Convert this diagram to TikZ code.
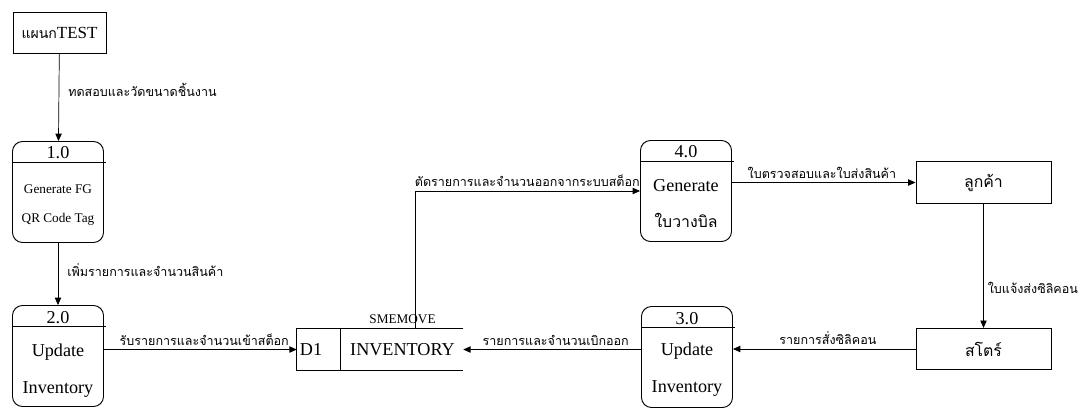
\documentclass[tikz,border=0pt]{standalone}
\usepackage{fontspec}
\setmainfont{Liberation Serif}
\newfontfamily\thai[Script=Thai]{Loma}
\usetikzlibrary{arrows.meta}

\tikzset{
  ext/.style={draw, line width=0.8pt, inner sep=0, minimum width=4.05cm, minimum height=1.24cm, font=\thai\fontsize{13.5}{16}\selectfont},
  proc/.style={draw, rounded corners=0.3cm, line width=0.8pt, minimum width=2.73cm, minimum height=3.03cm},
  big/.style={inner sep=0, font=\fontsize{15.5}{18}\selectfont},
  small/.style={inner sep=0, font=\fontsize{11.3}{13}\selectfont},
  lbl/.style={inner sep=0, font=\thai\fontsize{10.7}{12}\selectfont},
  flow/.style={->, line width=0.6pt}
}

\begin{document}
\begin{tikzpicture}[x=0.03cm, y=-0.03cm, >={Triangle[length=0.22cm,width=0.19cm]}]
\useasboundingbox (0,0) rectangle (1086,407);

% external entities
\node[ext, minimum width=2.79cm, font=\fontsize{14.5}{16}\selectfont] (dept) at (59.5,33) {{\thai\fontsize{12}{14}\selectfont แผนก}TEST};
\node[ext] (cust) at (983.5,182.5) {ลูกค้า};
\node[ext] (shop) at (983.5,349) {สโตร์};

% processes
\node[proc] (p1) at (58,192) {};
\node[proc] (p2) at (58,356) {};
\node[proc] (p4) at (686,191) {};
\node[proc] (p3) at (687,357) {};
\foreach \p in {p1,p2,p3,p4}
  \draw[line width=0.8pt] (\p.north west) ++(0,21) -- ++(94,0);

\node[big] (p1n) at (58,153) {1.0};
\node[small] (p1a) at (58,189) {Generate FG};
\node[small] (p1b) at (58,219) {QR Code Tag};

\node[big] (p2n) at (58,318) {2.0};
\node[big] (p2a) at (58,352) {Update};
\node[big] (p2b) at (58,390) {Inventory};

\node[big] (p4n) at (686,152) {4.0};
\node[big] (p4a) at (686,186) {Generate};
\node[big, font=\thai\fontsize{13.5}{16}\selectfont] (p4b) at (686,220) {ใบวางบิล};

\node[big] (p3n) at (687,319) {3.0};
\node[big] (p3a) at (687,351) {Update};
\node[big] (p3b) at (687,389) {Inventory};

% data store
\node[minimum width=4.98cm, minimum height=1.23cm, inner sep=0] (ds) at (380,349.5) {};
\draw[line width=0.8pt] (ds.north east) -- (ds.north west) -- (ds.south west) -- (ds.south east);
\draw[line width=0.8pt] (ds.north west) ++(44,0) -- ++(0,41);
\node[big] (d1) at (311,350) {D1};
\node[big] (inv) at (402.5,350) {INVENTORY};
\node[small] (sme) at (402.5,319) {SMEMOVE};

% flows
\draw[flow] (dept) -- (p1) node[lbl, pos=0.41, anchor=west, xshift=0.27cm] (f1) {ทดสอบและวัดขนาดชิ้นงาน};
\draw[flow] (p1) -- (p2) node[lbl, pos=0.44, anchor=west, xshift=0.27cm] (f2) {เพิ่มรายการและจำนวนสินค้า};
\draw[flow] (p2.east |- ds.west) -- (ds.west) node[lbl, pos=0.52, anchor=south, yshift=0.12cm] (f3) {รับรายการและจำนวนเข้าสต็อก};
\draw[flow] ([xshift=1.05cm]ds.north) |- (p4.west) node[lbl, pos=1, anchor=south east, yshift=0.12cm] (f4) {ตัดรายการและจำนวนออกจากระบบสต็อก};
\draw[flow] (p4.east |- cust.west) -- (cust.west) node[lbl, pos=0.49, anchor=south, yshift=0.12cm] (f5) {ใบตรวจสอบและใบส่งสินค้า};
\draw[flow] (cust) -- (shop) node[lbl, pos=0.68, anchor=west, xshift=0.12cm] (f6) {ใบแจ้งส่งซิลิคอน};
\draw[flow] (shop.west) -- (shop.west -| p3.east) node[lbl, pos=0.48, anchor=south, yshift=0.12cm] (f7) {รายการสั่งซิลิคอน};
\draw[flow] (p3.west |- ds.east) -- (ds.east) node[lbl, pos=0.48, anchor=south, yshift=0.12cm] (f8) {รายการและจำนวนเบิกออก};
\end{tikzpicture}
\end{document}
